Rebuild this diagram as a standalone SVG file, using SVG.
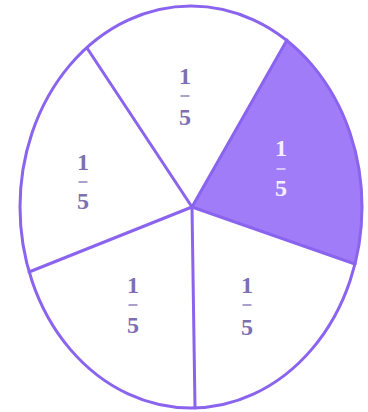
<svg xmlns="http://www.w3.org/2000/svg" width="368" height="412" viewBox="0 0 368 412">
<style>
.edge{stroke:#8a64ee;stroke-width:3;fill:none;stroke-linecap:round}
.num{font-family:"Liberation Serif","DejaVu Serif",serif;font-size:24px;font-weight:bold;text-anchor:middle;fill:#7e6fb0}
.bar{stroke:#7e6fb0;stroke-width:1.3}
.w .num{fill:#f4efff}
.w .bar{stroke:#f4efff}
</style>
<rect width="368" height="412" fill="#ffffff"/>
<g id="shaded">
<path d="M192,207 L287,40 A171,201 0 0,1 355,264 Z" fill="#a17cf8"/>
</g>
<g id="outline">
<ellipse cx="191" cy="207" rx="171" ry="201" class="edge"/>
</g>
<g id="connectors">
<line x1="192" y1="207" x2="87" y2="48" class="edge"/>
<line x1="192" y1="207" x2="287" y2="40" class="edge"/>
<line x1="192" y1="207" x2="355" y2="264" class="edge"/>
<line x1="192" y1="207" x2="195" y2="408" class="edge"/>
<line x1="192" y1="207" x2="29" y2="272" class="edge"/>
</g>
<g id="label-top">
<text x="185" y="84" class="num">1</text>
<line x1="180.5" y1="96" x2="189.5" y2="96" class="bar"/>
<text x="185" y="125" class="num">5</text>
</g>
<g id="label-right" class="w">
<text x="281" y="156" class="num">1</text>
<line x1="276.5" y1="169" x2="285.5" y2="169" class="bar"/>
<text x="281" y="196" class="num">5</text>
</g>
<g id="label-left">
<text x="83" y="170" class="num">1</text>
<line x1="78.5" y1="182" x2="87.5" y2="182" class="bar"/>
<text x="83" y="209" class="num">5</text>
</g>
<g id="label-bottom-left">
<text x="133" y="293" class="num">1</text>
<line x1="128.5" y1="305" x2="137.5" y2="305" class="bar"/>
<text x="133" y="333" class="num">5</text>
</g>
<g id="label-bottom-right">
<text x="247" y="293" class="num">1</text>
<line x1="242.5" y1="305" x2="251.5" y2="305" class="bar"/>
<text x="247" y="335" class="num">5</text>
</g>
</svg>
